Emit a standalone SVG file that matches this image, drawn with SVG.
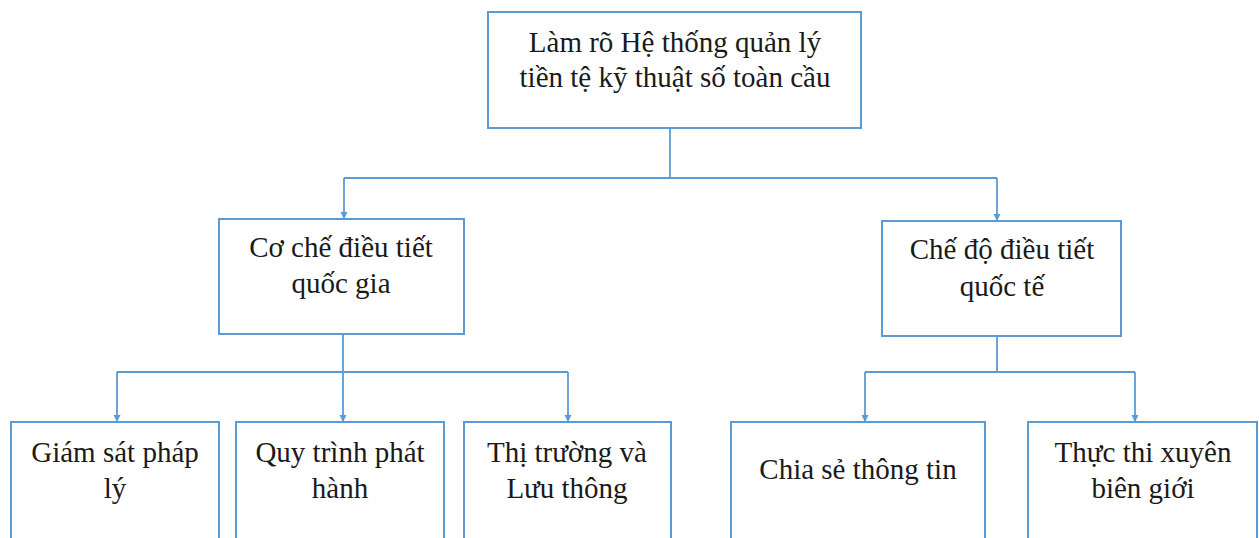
<svg xmlns="http://www.w3.org/2000/svg" width="1259" height="538" viewBox="0 0 1259 538">
<style>
.box{fill:#fff;stroke:#5B9BD5;stroke-width:2}
.t{font-family:"Liberation Serif","Times New Roman",serif;font-size:29px;fill:#1a1a1a;text-anchor:middle}
.c{fill:none;stroke:#5B9BD5;stroke-width:1.8}
</style>
<defs>
<marker id="ah" viewBox="0 0 10 10" refX="10" refY="5" markerWidth="4" markerHeight="4" orient="auto" markerUnits="strokeWidth">
<path d="M0,0 L10,5 L0,10 z" fill="#5B9BD5"/>
</marker>
</defs>
<rect width="1259" height="538" fill="#fff"/>
<g id="connectors">
<path class="c" d="M670,128 V178"/>
<path class="c" d="M344,178 H997"/>
<path class="c" d="M344,178 V219" marker-end="url(#ah)"/>
<path class="c" d="M997,178 V221" marker-end="url(#ah)"/>
<path class="c" d="M343,334 V372"/>
<path class="c" d="M117,372 H568"/>
<path class="c" d="M117,372 V422" marker-end="url(#ah)"/>
<path class="c" d="M343,372 V422" marker-end="url(#ah)"/>
<path class="c" d="M568,372 V422" marker-end="url(#ah)"/>
<path class="c" d="M997,336 V372"/>
<path class="c" d="M865,372 H1135"/>
<path class="c" d="M865,372 V422" marker-end="url(#ah)"/>
<path class="c" d="M1135,372 V422" marker-end="url(#ah)"/>
</g>
<g id="root">
<rect class="box" x="488" y="12" width="373" height="116"/>
<text class="t" x="675" y="52">Làm rõ Hệ thống quản lý</text>
<text class="t" x="675" y="87">tiền tệ kỹ thuật số toàn cầu</text>
</g>
<g id="national">
<rect class="box" x="219" y="219" width="245" height="115"/>
<text class="t" x="341" y="257">Cơ chế điều tiết</text>
<text class="t" x="341" y="293">quốc gia</text>
</g>
<g id="international">
<rect class="box" x="882" y="221" width="239" height="115"/>
<text class="t" x="1002" y="259">Chế độ điều tiết</text>
<text class="t" x="1002" y="296">quốc tế</text>
</g>
<g id="legal">
<rect class="box" x="11" y="422" width="208" height="120"/>
<text class="t" x="115" y="462">Giám sát pháp</text>
<text class="t" x="115" y="498">lý</text>
</g>
<g id="issuance">
<rect class="box" x="236" y="422" width="208" height="120"/>
<text class="t" x="340" y="462">Quy trình phát</text>
<text class="t" x="340" y="498">hành</text>
</g>
<g id="market">
<rect class="box" x="464" y="422" width="207" height="120"/>
<text class="t" x="567" y="462">Thị trường và</text>
<text class="t" x="567" y="498">Lưu thông</text>
</g>
<g id="info">
<rect class="box" x="731" y="422" width="254" height="120"/>
<text class="t" x="858" y="479">Chia sẻ thông tin</text>
</g>
<g id="crossborder">
<rect class="box" x="1028" y="422" width="229" height="120"/>
<text class="t" x="1143" y="462">Thực thi xuyên</text>
<text class="t" x="1143" y="498">biên giới</text>
</g>
</svg>
